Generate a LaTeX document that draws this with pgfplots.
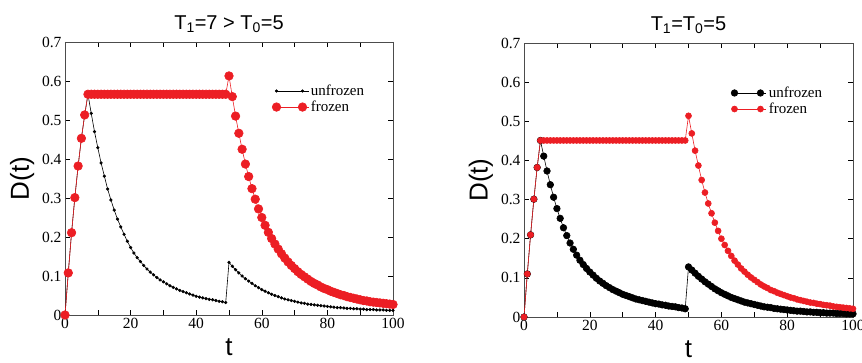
\documentclass[border=0pt]{standalone}
\usepackage{fontspec}
\setmainfont{Liberation Serif}
\newfontfamily\sansf{Liberation Sans}
\usepackage{pgfplots}
\pgfplotsset{compat=1.18}
\definecolor{myred}{RGB}{236,30,36}
\pgfplotsset{legend image code/.code={\path (0pt,0pt) -- (32pt,0pt);\draw[#1, mark repeat=2, mark phase=1] plot coordinates {(0pt,0pt)(13pt,0pt)(26pt,0pt)};}}
\pgfplotsset{
  myaxis/.style={
    scale only axis,
    xmin=0,xmax=100,ymin=0,ymax=0.7,
    xtick={0,20,40,60,80,100}, minor xtick={10,30,50,70,90},
    ytick={0,0.1,0.2,0.3,0.4,0.5,0.6,0.7},
    yticklabels={0,0.1,0.2,0.3,0.4,0.5,0.6,0.7},
    tick align=inside,
    major tick length=5pt, minor tick length=5pt,
    tick style={black, line width=0.6pt},
    axis line style={black!70, line width=0.9pt},
    /pgf/number format/assume math mode=true,
    ticklabel style={font=\fontsize{15.5}{15.5}\selectfont},
    xlabel={\sansf t}, ylabel={\sansf D(t)},
    label style={font=\fontsize{26}{26}\selectfont},
    xlabel style={at={(axis description cs:0.5,-0.118)}, anchor=center},
    ylabel style={at={(axis description cs:-0.131,0.5)}, anchor=center},
    title style={font=\fontsize{20}{20}\selectfont\sansf},
    legend style={draw=none, fill=none, font=\fontsize{15}{17}\selectfont, row sep=0pt, cells={anchor=west}},
  }
}
\begin{document}
\begin{tikzpicture}
\useasboundingbox (0,0) rectangle (862pt,362pt);
% ---------- left panel ----------
\begin{axis}[myaxis, at={(65pt,47pt)}, anchor=south west, width=328pt, height=273pt,
  title={T\textsubscript{1}=7 > T\textsubscript{0}=5},
  legend style={at={(0.622,0.858)}, anchor=north west}]
\addplot[black, line width=0.6pt, mark=*, mark size=1.3pt] coordinates {
(0,0)(1,0.108)(2,0.211)(3,0.301)(4,0.382)(5,0.453)(6,0.513)(7,0.566)(8,0.517)(9,0.47)(10,0.429)(11,0.39)(12,0.356)(13,0.323)(14,0.295)(15,0.269)(16,0.246)(17,0.226)(18,0.207)(19,0.189)(20,0.173)(21,0.159)(22,0.147)(23,0.137)(24,0.127)(25,0.118)(26,0.11)(27,0.103)(28,0.096)(29,0.09)(30,0.085)(31,0.08)(32,0.075)(33,0.071)(34,0.067)(35,0.063)(36,0.06)(37,0.057)(38,0.054)(39,0.051)(40,0.048)(41,0.046)(42,0.044)(43,0.042)(44,0.04)(45,0.039)(46,0.037)(47,0.035)(48,0.034)(49,0.032)(50,0.135)(51,0.125)(52,0.116)(53,0.108)(54,0.1)(55,0.093)(56,0.087)(57,0.081)(58,0.075)(59,0.07)(60,0.065)(61,0.061)(62,0.057)(63,0.053)(64,0.05)(65,0.047)(66,0.044)(67,0.041)(68,0.039)(69,0.037)(70,0.035)(71,0.033)(72,0.031)(73,0.03)(74,0.028)(75,0.027)(76,0.026)(77,0.025)(78,0.024)(79,0.023)(80,0.022)(81,0.021)(82,0.02)(83,0.019)(84,0.019)(85,0.018)(86,0.017)(87,0.017)(88,0.016)(89,0.016)(90,0.015)(91,0.015)(92,0.014)(93,0.014)(94,0.014)(95,0.013)(96,0.013)(97,0.013)(98,0.012)(99,0.012)(100,0.012)};
\addlegendentry{unfrozen}
\addplot[myred, line width=0.6pt, mark=*, mark size=4.3pt] coordinates {
(0,0)(1,0.108)(2,0.211)(3,0.301)(4,0.382)(5,0.453)(6,0.513)(7,0.566)(8,0.566)(9,0.566)(10,0.566)(11,0.566)(12,0.566)(13,0.566)(14,0.566)(15,0.566)(16,0.566)(17,0.566)(18,0.566)(19,0.566)(20,0.566)(21,0.566)(22,0.566)(23,0.566)(24,0.566)(25,0.566)(26,0.566)(27,0.566)(28,0.566)(29,0.566)(30,0.566)(31,0.566)(32,0.566)(33,0.566)(34,0.566)(35,0.566)(36,0.566)(37,0.566)(38,0.566)(39,0.566)(40,0.566)(41,0.566)(42,0.566)(43,0.566)(44,0.566)(45,0.566)(46,0.566)(47,0.566)(48,0.566)(49,0.566)(50,0.613)(51,0.56)(52,0.51)(53,0.466)(54,0.425)(55,0.387)(56,0.355)(57,0.324)(58,0.297)(59,0.272)(60,0.25)(61,0.23)(62,0.212)(63,0.196)(64,0.182)(65,0.169)(66,0.157)(67,0.146)(68,0.136)(69,0.127)(70,0.119)(71,0.111)(72,0.104)(73,0.098)(74,0.092)(75,0.086)(76,0.081)(77,0.077)(78,0.072)(79,0.068)(80,0.065)(81,0.061)(82,0.058)(83,0.055)(84,0.052)(85,0.05)(86,0.047)(87,0.045)(88,0.043)(89,0.041)(90,0.039)(91,0.037)(92,0.036)(93,0.034)(94,0.033)(95,0.032)(96,0.031)(97,0.03)(98,0.029)(99,0.028)(100,0.027)};
\addlegendentry{frozen}
\end{axis}
% ---------- right panel ----------
\begin{axis}[myaxis, at={(524pt,45pt)}, anchor=south west, width=329pt, height=274pt,
  title={T\textsubscript{1}=T\textsubscript{0}=5},
  legend style={at={(0.62,0.855)}, anchor=north west}]
\addplot[black, line width=0.6pt, mark=*, mark size=3.3pt] coordinates {
(0,0)(1,0.11)(2,0.21)(3,0.301)(4,0.382)(5,0.451)(6,0.411)(7,0.373)(8,0.338)(9,0.306)(10,0.277)(11,0.252)(12,0.228)(13,0.208)(14,0.189)(15,0.173)(16,0.158)(17,0.145)(18,0.134)(19,0.124)(20,0.115)(21,0.107)(22,0.099)(23,0.092)(24,0.086)(25,0.08)(26,0.075)(27,0.07)(28,0.066)(29,0.062)(30,0.058)(31,0.055)(32,0.052)(33,0.049)(34,0.046)(35,0.044)(36,0.042)(37,0.04)(38,0.038)(39,0.036)(40,0.034)(41,0.033)(42,0.031)(43,0.03)(44,0.028)(45,0.027)(46,0.026)(47,0.024)(48,0.023)(49,0.021)(50,0.128)(51,0.12)(52,0.112)(53,0.104)(54,0.097)(55,0.09)(56,0.084)(57,0.078)(58,0.072)(59,0.067)(60,0.062)(61,0.058)(62,0.054)(63,0.05)(64,0.047)(65,0.044)(66,0.041)(67,0.038)(68,0.036)(69,0.034)(70,0.032)(71,0.03)(72,0.028)(73,0.026)(74,0.025)(75,0.024)(76,0.022)(77,0.021)(78,0.02)(79,0.019)(80,0.018)(81,0.017)(82,0.016)(83,0.015)(84,0.015)(85,0.014)(86,0.013)(87,0.013)(88,0.012)(89,0.012)(90,0.011)(91,0.011)(92,0.01)(93,0.01)(94,0.01)(95,0.009)(96,0.009)(97,0.009)(98,0.008)(99,0.008)(100,0.008)};
\addlegendentry{unfrozen}
\addplot[myred, line width=0.6pt, mark=*, mark size=3pt] coordinates {
(0,0)(1,0.11)(2,0.21)(3,0.301)(4,0.382)(5,0.451)(6,0.451)(7,0.451)(8,0.451)(9,0.451)(10,0.451)(11,0.451)(12,0.451)(13,0.451)(14,0.451)(15,0.451)(16,0.451)(17,0.451)(18,0.451)(19,0.451)(20,0.451)(21,0.451)(22,0.451)(23,0.451)(24,0.451)(25,0.451)(26,0.451)(27,0.451)(28,0.451)(29,0.451)(30,0.451)(31,0.451)(32,0.451)(33,0.451)(34,0.451)(35,0.451)(36,0.451)(37,0.451)(38,0.451)(39,0.451)(40,0.451)(41,0.451)(42,0.451)(43,0.451)(44,0.451)(45,0.451)(46,0.451)(47,0.451)(48,0.451)(49,0.451)(50,0.514)(51,0.469)(52,0.425)(53,0.387)(54,0.35)(55,0.318)(56,0.29)(57,0.265)(58,0.241)(59,0.22)(60,0.2)(61,0.184)(62,0.169)(63,0.156)(64,0.144)(65,0.134)(66,0.124)(67,0.116)(68,0.108)(69,0.101)(70,0.095)(71,0.089)(72,0.083)(73,0.078)(74,0.074)(75,0.069)(76,0.066)(77,0.062)(78,0.059)(79,0.056)(80,0.053)(81,0.05)(82,0.048)(83,0.045)(84,0.043)(85,0.041)(86,0.039)(87,0.037)(88,0.036)(89,0.034)(90,0.033)(91,0.031)(92,0.03)(93,0.029)(94,0.027)(95,0.026)(96,0.025)(97,0.024)(98,0.023)(99,0.022)(100,0.021)};
\addlegendentry{frozen}
\end{axis}
\end{tikzpicture}
\end{document}
